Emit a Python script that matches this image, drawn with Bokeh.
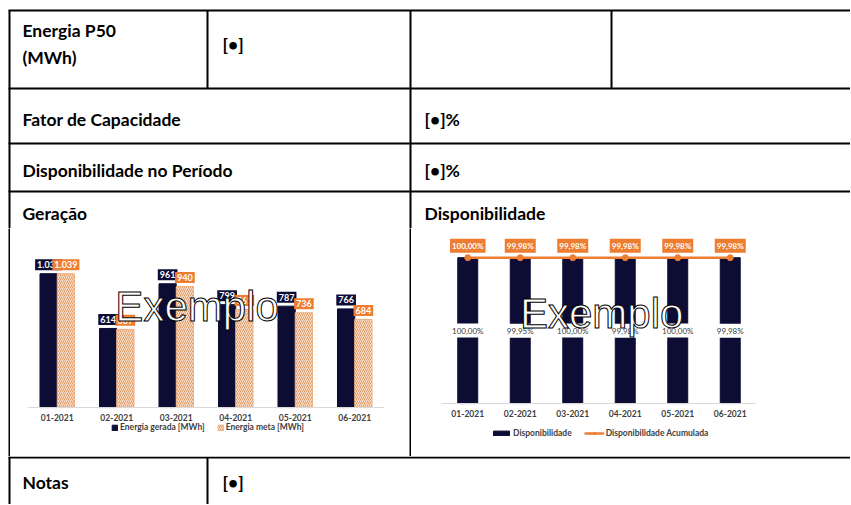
from bokeh.plotting import figure
from bokeh.layouts import column, row
from bokeh.models import Range1d, FactorRange, ColumnDataSource, Legend, LegendItem, Label
from bokeh.transform import dodge
from bokeh.core.properties import value
from bokeh.embed import file_html
from bokeh.resources import INLINE

# ---------------- data ----------------
months = ["01-2021", "02-2021", "03-2021", "04-2021", "05-2021", "06-2021"]
energia_gerada = [1039, 614, 961, 799, 787, 766]
energia_meta = [1039, 607, 940, 761, 736, 684]
disponibilidade = [100.00, 99.95, 100.00, 99.98, 100.00, 99.98]
disp_acumulada = [100.00, 99.98, 99.98, 99.98, 99.98, 99.98]

row_labels = ["Energia P50", "(MWh)", "Fator de Capacidade", "Disponibilidade no Período", "Geração", "Notas"]
cell_values = ["[•]", "[•]%", "[•]%", "[•]"]
chart2_title = "Disponibilidade"
legend_g = ["Energia gerada [MWh]", "Energia meta [MWh]"]
legend_d = ["Disponibilidade", "Disponibilidade Acumulada"]
watermark = "Exemplo"


def fmt_mwh(v):
    return f"{v:,}".replace(",", ".")


def fmt_pct(v):
    return f"{v:.2f}%".replace(".", ",")


FONT = "Lato"
NAVY = "#0c0c34"
ORANGE = "#ed7d31"
GRAY = "#404040"
W = 850
TOP_H, MID_H, BOT_H = 228, 228, 48


def table_fig(h):
    p = figure(width=W, height=h, x_range=Range1d(0, W), y_range=Range1d(h, 0),
               output_backend="svg", toolbar_location=None, min_border=0,
               x_axis_location=None, y_axis_location=None, outline_line_color=None)
    p.grid.visible = False
    return p


def cell_text(p, xs, ys, texts):
    p.text(x=xs, y=ys, text=texts, text_font=value(FONT), text_font_size="17.5px",
           text_font_style="bold", text_baseline="middle", text_color="black")


# ---------------- top part of the table ----------------
top = table_fig(TOP_H)
top.segment(x0=[8, 9, 207, 611, 410, 8, 8, 8],
            y0=[10, 10, 10, 10, 10, 88, 143, 191],
            x1=[W, 9, 207, 611, 410, W, W, W],
            y1=[10, TOP_H, 88, 88, TOP_H, 88, 143, 191],
            line_color="black", line_width=2)
cell_text(top, [22, 22, 22, 22, 22], [30, 57, 119, 170, 213],
          [row_labels[0], row_labels[1], row_labels[2], row_labels[3], row_labels[4]])
cell_text(top, [222, 424, 424, 424], [44, 119, 170, 213],
          [cell_values[0], cell_values[1], cell_values[2], chart2_title])

# ---------------- bottom part of the table ----------------
bot = table_fig(BOT_H)
bot.segment(x0=[8, 9, 207], y0=[1, 0, 1], x1=[W, 9, 207], y1=[1, BOT_H, BOT_H],
            line_color="black", line_width=2)
cell_text(bot, [22, 222], [26, 26], [row_labels[5], cell_values[3]])


def strip(w, color):
    s = figure(frame_width=w, frame_height=MID_H, output_backend="svg", toolbar_location=None,
               min_border=0, x_axis_location=None, y_axis_location=None,
               outline_line_color=None, background_fill_color=color,
               border_fill_color=color)
    s.grid.visible = False
    return s


def style_axis(p):
    ax = p.xaxis[0]
    ax.fixed_location = 0
    ax.axis_line_color = "#d9d9d9"
    ax.axis_line_width = 1
    ax.major_tick_line_color = None
    ax.minor_tick_line_color = None
    ax.major_tick_out = 0
    ax.major_tick_in = 0
    ax.major_label_standoff = 6
    ax.major_label_text_font = FONT
    ax.major_label_text_font_size = "8.5px"
    ax.major_label_text_font_style = "bold"
    ax.major_label_text_color = GRAY
    p.xgrid.visible = False
    p.ygrid.visible = False


def make_legend(items, loc, gw, gh):
    return Legend(items=items, orientation="horizontal", location=loc,
                  glyph_width=gw, glyph_height=gh, label_text_font=FONT,
                  label_text_font_size="8.5px", label_text_font_style="bold",
                  label_text_color=GRAY, label_standoff=2, spacing=12, padding=0,
                  margin=0, border_line_color=None, background_fill_alpha=0,
                  label_height=8)


# ---------------- Geração chart ----------------
src_g = ColumnDataSource(dict(month=months, gerada=energia_gerada, meta=energia_meta,
                              gerada_lbl=[fmt_mwh(v) for v in energia_gerada],
                              meta_lbl=[fmt_mwh(v) for v in energia_meta]))
pg = figure(frame_width=357, frame_height=MID_H,
            x_range=FactorRange(factors=months, range_padding=0),
            y_range=Range1d(-380, 1390), output_backend="svg", toolbar_location=None,
            min_border_left=17, min_border_right=25, min_border_top=0, min_border_bottom=0,
            y_axis_location=None, outline_line_color=None)
style_axis(pg)
r1 = pg.vbar(x=dodge("month", -0.145, range=pg.x_range), top="gerada", width=0.29,
             source=src_g, fill_color=NAVY, line_color=NAVY)
r2 = pg.vbar(x=dodge("month", 0.145, range=pg.x_range), top="meta", width=0.29,
             source=src_g, fill_color="#fbe1cd", line_color="#f0b080",
             hatch_pattern="/", hatch_color="#de9a64", hatch_scale=4, hatch_weight=1)
pg.text(x=dodge("month", -0.145, range=pg.x_range), y="gerada", text="gerada_lbl", source=src_g,
        y_offset=-9, text_align="center", text_baseline="middle", text_font=value(FONT),
        text_font_size="9px", text_font_style="bold", text_color="white",
        background_fill_color=NAVY, padding=2)
pg.text(x=dodge("month", 0.145, range=pg.x_range), y="meta", text="meta_lbl", source=src_g,
        y_offset=-9, text_align="center", text_baseline="middle", text_font=value(FONT),
        text_font_size="9px", text_font_style="bold", text_color="white",
        background_fill_color=ORANGE, padding=2)
pg.add_layout(Label(x=2.85, y=783, text=watermark, text_font="Liberation Sans",
                    text_font_size="42px", text_color="white", text_outline_color="black",
                    text_align="center", text_baseline="alphabetic"))
pg.add_layout(make_legend([LegendItem(label=legend_g[0], renderers=[r1]),
                           LegendItem(label=legend_g[1], renderers=[r2])],
                          (84, 24), 7, 7))

# ---------------- Disponibilidade chart ----------------
src_d = ColumnDataSource(dict(month=months, disp=disponibilidade, acum=disp_acumulada,
                              mid=[v / 2 for v in disponibilidade],
                              disp_lbl=[fmt_pct(v) for v in disponibilidade],
                              acum_lbl=[fmt_pct(v) for v in disp_acumulada]))
pdd = figure(frame_width=315, frame_height=MID_H,
             x_range=FactorRange(factors=months, range_padding=0),
             y_range=Range1d(-36.3, 120), output_backend="svg", toolbar_location=None,
             min_border_left=30, min_border_right=94, min_border_top=0, min_border_bottom=0,
             y_axis_location=None, outline_line_color=None)
style_axis(pdd)
rb = pdd.vbar(x="month", top="disp", width=0.38, source=src_d, fill_color=NAVY, line_color=NAVY)
pdd.text(x="month", y="mid", text="disp_lbl", source=src_d, text_align="center",
         text_baseline="middle", text_font=value(FONT), text_font_size="8px",
         text_color=GRAY, background_fill_color="white", padding=2)
rl = pdd.line(x="month", y="acum", source=src_d, line_color=ORANGE, line_width=2.5)
rc = pdd.scatter(x="month", y="acum", source=src_d, size=6, fill_color=ORANGE, line_color=ORANGE)
pdd.text(x="month", y="acum", text="acum_lbl", source=src_d, y_offset=-12, text_align="center",
         text_baseline="middle", text_font=value(FONT), text_font_size="8px",
         text_font_style="bold", text_color="white", background_fill_color=ORANGE, padding=2)
pdd.add_layout(Label(x=3.05, y=61.7, text=watermark, text_font="Liberation Sans",
                     text_font_size="42px", text_color="white", text_outline_color="black",
                     text_align="center", text_baseline="alphabetic"))
pdd.add_layout(make_legend([LegendItem(label=legend_d[0], renderers=[rb]),
                            LegendItem(label=legend_d[1], renderers=[rl, rc])],
                           (50, 18), 20, 6))

layout = column(top, row(strip(8, "white"), strip(2, "black"), pg, strip(2, "black"), pdd), bot)

open("out.html", "w").write(file_html(layout, INLINE))
